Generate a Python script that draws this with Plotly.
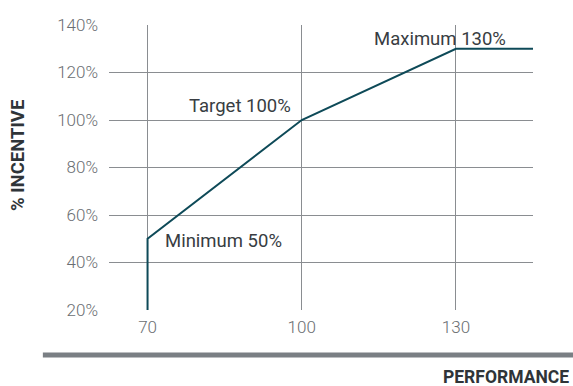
import plotly.graph_objects as go

performance = [70, 70, 100, 130, 145]
incentive = [20, 50, 100, 130, 130]
x_ticks = [70, 100, 130]
y_ticks = [20, 40, 60, 80, 100, 120, 140]
y_tick_text = ["20%", "40%", "60%", "80%", "100%", "120%", "140%"]
labels = ["Minimum 50%", "Target 100%", "Maximum 130%"]
label_x = [70, 100, 130]
label_y = [50, 100, 130]

ann_font = dict(family="Roboto", size=18.5, color="#383d42")

fig = go.Figure()
fig.add_trace(go.Scatter(x=performance, y=incentive, mode="lines",
                         line=dict(color="#0e4a58", width=2), cliponaxis=False,
                         hoverinfo="skip"))

fig.add_annotation(x=label_x[0], y=label_y[0], text=labels[0], showarrow=False,
                   xanchor="left", yanchor="middle", xshift=15, yshift=-2, font=ann_font)
fig.add_annotation(x=label_x[1], y=label_y[1], text=labels[1], showarrow=False,
                   xanchor="right", yanchor="middle", xshift=-9, yshift=14, font=ann_font)
fig.add_annotation(x=label_x[2], y=label_y[2], text=labels[2], showarrow=False,
                   xanchor="right", yanchor="middle", xshift=52, yshift=10, font=ann_font)

fig.add_shape(type="line", xref="paper", yref="paper", x0=-0.156, x1=1.1,
              y0=-0.158, y1=-0.158, line=dict(color="#7a7f84", width=5))

fig.add_annotation(xref="paper", yref="paper", x=1.0896, y=-0.235, text="<b>PERFORMANCE</b>",
                   showarrow=False, xanchor="right", yanchor="middle",
                   font=dict(family="Roboto", size=17.5, color="#2f3438"))
fig.add_annotation(xref="paper", yref="paper", x=-0.2146, y=0.54, text="<b>% INCENTIVE</b>",
                   showarrow=False, textangle=-90, xanchor="center", yanchor="middle",
                   font=dict(family="Roboto", size=18.5, color="#2f3438"))

tick_font = dict(family="Roboto", size=17, color="#6a6e72", weight=300)
fig.update_xaxes(range=[62.5, 145], tickvals=x_ticks, showgrid=True, gridcolor="#8a8d91",
                 gridwidth=1, zeroline=False, showline=False, ticks="",
                 ticklabelstandoff=5, tickfont=tick_font)
fig.update_yaxes(range=[20, 140], tickvals=y_ticks, ticktext=y_tick_text, showgrid=True,
                 gridcolor="#8a8d91", gridwidth=1, zeroline=False, showline=False, ticks="",
                 ticklabelstandoff=10, tickfont=tick_font)

fig.update_layout(width=573, height=386, margin=dict(l=109, r=40, t=25, b=76),
                  plot_bgcolor="white", paper_bgcolor="white", showlegend=False,
                  font=dict(family="Roboto"))
fig.write_html("out.html")
